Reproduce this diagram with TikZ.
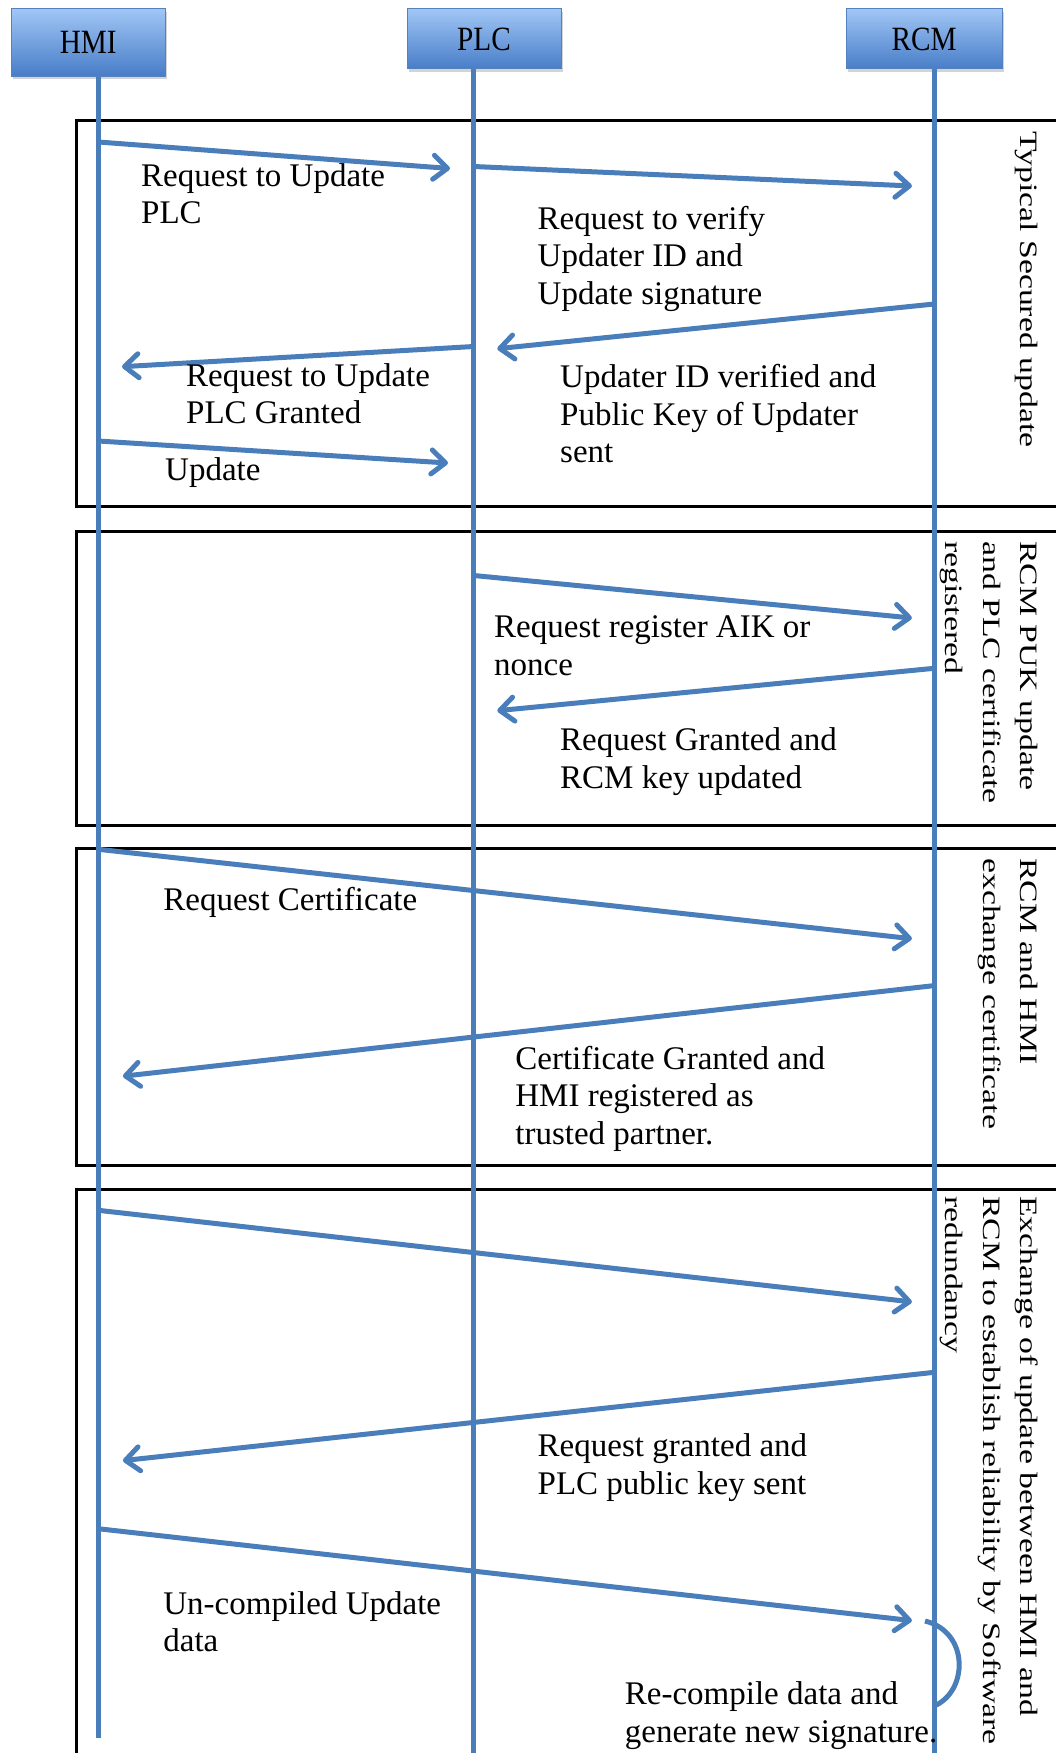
\documentclass[tikz,border=0pt]{standalone}
\usepackage{fontspec}
\usetikzlibrary{arrows.meta,shadows}
\newfontfamily\bodyfont{Liberation Serif}
\newfontfamily\hdrfont[FakeStretch=0.86]{Liberation Serif}
\newfontfamily\rotfont[FakeStretch=1.35]{Liberation Serif}
\definecolor{lineblue}{RGB}{74,126,187}
\definecolor{hdrtop}{RGB}{160,198,245}
\definecolor{hdrbot}{RGB}{72,125,200}
\definecolor{hdrdraw}{RGB}{85,130,190}
\begin{document}
\begin{tikzpicture}[x=1pt,y=-1pt,
  hdr/.style={draw=hdrdraw, line width=1pt, top color=hdrtop, bottom color=hdrbot,
    drop shadow={opacity=0.35,shadow xshift=2pt,shadow yshift=-3pt},
    font=\hdrfont\fontsize{34}{36}\selectfont, inner sep=0pt},
  life/.style={draw=lineblue, line width=5pt},
  msg/.style={draw=lineblue, line width=5pt,
    -{Straight Barb[length=14pt,width=24pt,line width=5pt,round]}},
  frame/.style={draw=black, line width=3pt},
  lbl/.style={anchor=base west, align=left, inner sep=0pt,
    font=\bodyfont\fontsize{33}{37.5}\selectfont},
  side/.style={rotate=-90, anchor=base west, align=left, inner sep=0pt,
    font=\rotfont\fontsize{25}{37.5}\selectfont},
]
\useasboundingbox (0,0) rectangle (1056,1753);

% frames
\draw[frame] (1056,120.5) -- (76,120.5) -- (76,506.5) -- (1056,506.5);
\draw[frame] (1056,531) -- (76,531) -- (76,825) -- (1056,825);
\draw[frame] (1056,848.5) -- (76,848.5) -- (76,1165.5) -- (1056,1165.5);
\draw[frame] (1056,1189) -- (76,1189) -- (76,1753);

% headers
\node[hdr, minimum width=154pt, minimum height=67pt] (hmi) at (88.3,42.5) {HMI};
\node[hdr, minimum width=154pt, minimum height=60pt] (plc) at (484,39) {PLC};
\node[hdr, minimum width=156pt, minimum height=60pt] (rcm) at (924.2,39) {RCM};

% lifelines
\coordinate (hmiB) at (98.3,1738);
\coordinate (plcB) at (473.8,1753);
\coordinate (rcmB) at (934.2,1753);
\draw[life] (hmi.south -| hmiB) -- (hmiB);
\draw[life] (plc.south -| plcB) -- (plcB);
\draw[life] (rcm.south -| rcmB) -- (rcmB);

% message end points
\coordinate (m1a) at (98.3,142);   \coordinate (m1b) at (450,168.5);
\coordinate (m2a) at (473.8,166.5);\coordinate (m2b) at (911.9,186);
\coordinate (m3a) at (934.2,304);  \coordinate (m3b) at (497.3,348.7);
\coordinate (m4a) at (473.8,346.5);\coordinate (m4b) at (122,366.7);
\coordinate (m5a) at (98.3,441);   \coordinate (m5b) at (448,463);
\coordinate (m6a) at (473.8,575.5);\coordinate (m6b) at (911.9,618);
\coordinate (m7a) at (934.2,668.3);\coordinate (m7b) at (497.3,710.7);
\coordinate (m8a) at (98.3,849.3); \coordinate (m8b) at (911.9,938.7);
\coordinate (m9a) at (934.2,985.6);\coordinate (m9b) at (122.9,1076.2);
\coordinate (m10a) at (98.3,1210.3);\coordinate (m10b) at (911.9,1301.9);
\coordinate (m11a) at (934.2,1372.3);\coordinate (m11b) at (122.9,1460.6);
\coordinate (m12a) at (98.3,1528.7);\coordinate (m12b) at (911.9,1620.6);
\coordinate (rc1) at (925,1621);  \coordinate (rc2) at (934,1706);

\draw[msg] (m1a) -- (m1b);
\draw[msg] (m2a) -- (m2b);
\draw[msg] (m3a) -- (m3b);
\draw[msg] (m4a) -- (m4b);
\draw[msg] (m5a) -- (m5b);
\draw[msg] (m6a) -- (m6b);
\draw[msg] (m7a) -- (m7b);
\draw[msg] (m8a) -- (m8b);
\draw[msg] (m9a) -- (m9b);
\draw[msg] (m10a) -- (m10b);
\draw[msg] (m11a) -- (m11b);
\draw[msg] (m12a) -- (m12b);
\draw[life] (rc1) .. controls (970,1632) and (968,1692) .. (rc2);

% labels (anchor = baseline of last line)
\node[lbl] (l1) at (141,223.5) {Request to Update\\PLC};
\node[lbl] (l2) at (537.5,304) {Request to verify\\Updater ID and\\Update signature};
\node[lbl] (l3) at (560,462.5) {Updater ID verified and\\Public Key of Updater\\sent};
\node[lbl] (l4) at (186,423.5) {Request to Update\\PLC Granted};
\node[lbl] (l5) at (165,480) {Update};
\node[lbl] (l6) at (494,675) {Request register AIK or\\nonce};
\node[lbl] (l7) at (560,788) {Request Granted and\\RCM key updated};
\node[lbl] (l8) at (163.2,910) {Request Certificate};
\node[lbl] (l9) at (515.2,1144) {Certificate Granted and\\HMI registered as\\trusted partner.};
\node[lbl] (l10) at (537.5,1494.2) {Request granted and\\PLC public key sent};
\node[lbl] (l11) at (163.2,1651.7) {Un-compiled Update\\data};
\node[lbl] (l12) at (624.7,1742.2) {Re-compile data and\\generate new signature.};

% side labels (anchor = baseline of last line)
\node[side] (s1) at (1020.5,131) {Typical Secured update};
\node[side] (s2) at (945.5,541) {RCM PUK update\\and PLC certificate\\registered};
\node[side] (s3) at (983,858) {RCM and HMI\\exchange certificate};
\node[side] (s4) at (945.5,1196) {Exchange of update between HMI and\\RCM to establish reliability by Software\\redundancy};
\end{tikzpicture}
\end{document}
